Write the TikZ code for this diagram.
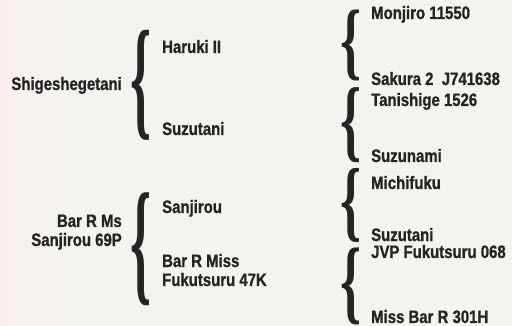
\documentclass[tikz,border=0pt]{standalone}
\usepackage{fontspec}
\newfontfamily\etiq{Liberation Sans Bold}[FakeStretch=0.83,FakeBold=1]
\newfontfamily\bracefont{Liberation Serif Bold}
\usepackage{xcolor}
\definecolor{fond}{HTML}{F5F3F0}
\definecolor{fondrose}{HTML}{F7EFED}
\definecolor{encre}{HTML}{242424}
\usepackage{graphicx}
\usepackage{tikz}
\newcommand\curly[1]{\resizebox*{21pt}{#1}{\bracefont\{}}

\begin{document}
\begin{tikzpicture}[x=1pt,y=-1pt,
  nom/.style={inner sep=0,text=encre,font=\fontsize{18}{19}\selectfont\etiq},
  fils/.style={nom,anchor=base west,align=left},
  racine/.style={nom,anchor=base east,align=right},
  accol/.style={inner sep=0,text=encre}
]
\fill[fond] (0,0) rectangle (512,326);
\shade[left color=fondrose,right color=fond] (0,0) rectangle (60,326);
\useasboundingbox (0,0) rectangle (512,326);
% premier groupe
\node[racine] (r1) at (122,90) {Shigeshegetani};
\node[accol] (b1) at (141.5,85) {\curly{110pt}};
\node[fils] (h) at (162,53) {Haruki II};
\node[fils] (s1) at (162,135) {Suzutani};
\node[accol] (b3) at (350.5,45.5) {\curly{71pt}};
\node[fils] (m) at (371,19) {Monjiro 11550};
\node[fils] (sa) at (371,85) {Sakura 2~ J741638};
\node[accol] (b4) at (350.5,125.5) {\curly{75pt}};
\node[fils] (t) at (371,106) {Tanishige 1526};
\node[fils] (sn) at (371,162) {Suzunami};
% second groupe
\node[racine] (r2) at (122,246) {Bar R Ms\\Sanjirou 69P};
\node[accol] (b2) at (141.5,249.5) {\curly{113pt}};
\node[fils] (sj) at (162,213) {Sanjirou};
\node[fils] (bm) at (162,286) {Bar R Miss\\Fukutsuru 47K};
\node[accol] (b5) at (350.5,205) {\curly{74pt}};
\node[fils] (mi) at (371,189) {Michifuku};
\node[fils] (s2) at (371,241) {Suzutani};
\node[accol] (b6) at (350.5,286.5) {\curly{77pt}};
\node[fils] (j) at (371,258) {JVP Fukutsuru 068};
\node[fils] (mb) at (371,323) {Miss Bar R 301H};
\end{tikzpicture}
\end{document}
